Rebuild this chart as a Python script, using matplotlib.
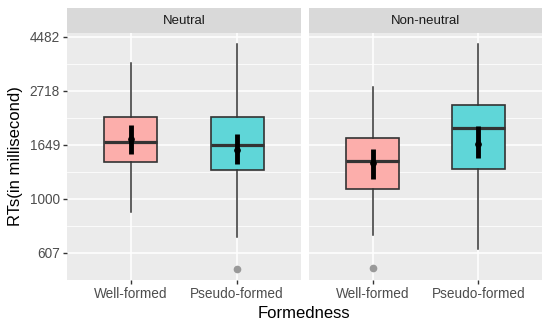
import numpy as np
import matplotlib
matplotlib.use("Agg")
import matplotlib.pyplot as plt

plt.rcParams['font.family'] = ['Liberation Sans', 'DejaVu Sans']

# data (RTs in millisecond)
panels = ['Neutral', 'Non-neutral']
categories = ['Well-formed', 'Pseudo-formed']
whisk_lo = [[887, 699], [714, 629]]
box_lo = [[1403, 1305], [1091, 1314]]
medians = [[1693, 1652], [1416, 1928]]
box_hi = [[2135, 2141], [1752, 2386]]
whisk_hi = [[3533, 4186], [2818, 4186]]
outliers = [[[], [523]], [[526], []]]
ci_lo = [[1519, 1375], [1206, 1459]]
ci_hi = [[1985, 1817], [1592, 1959]]
means = [[1737, 1567], [1389, 1667]]
y_ticks = [607, 1000, 1649, 2718, 4482]

fill_colors = ['#FCAEAB', '#5FD6D8']

fig = plt.figure(figsize=(5.5, 3.28), dpi=100)
W, H = 550.0, 328.0
panel_x = [(67, 301), (309, 542)]
top, bottom = 33, 280
strip_top = 8

lo_lim = np.log(523) - 0.104
hi_lim = np.log(4186) + 0.104
major = np.log(y_ticks)
minor = (major[:-1] + major[1:]) / 2

for p in range(2):
    x0, x1 = panel_x[p]
    ax = fig.add_axes([x0 / W, 1 - bottom / H, (x1 - x0) / W, (bottom - top) / H])
    ax.set_facecolor('#EBEBEB')
    for s in ax.spines.values():
        s.set_visible(False)

    stats = []
    for i in range(2):
        stats.append({
            'whislo': np.log(whisk_lo[p][i]),
            'q1': np.log(box_lo[p][i]),
            'med': np.log(medians[p][i]),
            'q3': np.log(box_hi[p][i]),
            'whishi': np.log(whisk_hi[p][i]),
            'fliers': np.log(outliers[p][i]) if outliers[p][i] else [],
        })
    bp = ax.bxp(stats, positions=[1, 2], widths=0.5, patch_artist=True,
                showcaps=False,
                boxprops=dict(edgecolor='#333333', linewidth=1.2),
                medianprops=dict(color='#333333', linewidth=2.3),
                whiskerprops=dict(color='#333333', linewidth=1.1),
                flierprops=dict(marker='o', markerfacecolor='#999999',
                                markeredgecolor='#999999', markersize=4.5))
    for patch, c in zip(bp['boxes'], fill_colors):
        patch.set_facecolor(c)
        patch.set_edgecolor('#333333')
    for i in range(2):
        ax.vlines(i + 1, np.log(ci_lo[p][i]), np.log(ci_hi[p][i]),
                  color='black', linewidth=3.5, zorder=5)
        ax.plot(i + 1, np.log(means[p][i]), marker='o', color='black',
                markersize=3.8, zorder=6)

    ax.set_xlim(0.4, 2.6)
    ax.set_ylim(lo_lim, hi_lim)
    ax.set_yticks(major)
    ax.set_yticks(minor, minor=True)
    ax.set_xticks([1, 2])
    ax.set_xticklabels(categories, fontsize=9.8, color='#4D4D4D')
    ax.grid(True, which='major', color='white', linewidth=1.1)
    ax.grid(True, which='minor', axis='y', color='white', linewidth=0.55)
    ax.set_axisbelow(True)
    ax.tick_params(axis='both', which='major', length=3, width=1, color='#333333',
                   labelsize=9.8, labelcolor='#4D4D4D', pad=2)
    ax.tick_params(axis='y', which='minor', length=0)
    if p == 0:
        ax.set_yticklabels([str(v) for v in y_ticks])
    else:
        ax.tick_params(axis='y', which='major', left=False, labelleft=False)

    # strip
    sax = fig.add_axes([x0 / W, 1 - top / H, (x1 - x0) / W, (top - strip_top) / H])
    sax.set_facecolor('#D9D9D9')
    sax.set_xticks([])
    sax.set_yticks([])
    for s in sax.spines.values():
        s.set_visible(False)
    sax.text(0.5, 0.5, panels[p], ha='center', va='center', fontsize=9.5,
             color='#1A1A1A', transform=sax.transAxes)

fig.text(16 / W, 1 - 156 / H, 'RTs(in millisecond)', rotation=90, ha='center',
         va='center', fontsize=12)
fig.text(304 / W, 1 - 313 / H, 'Formedness', ha='center', va='center', fontsize=12)

fig.savefig('out.png', dpi=100)
